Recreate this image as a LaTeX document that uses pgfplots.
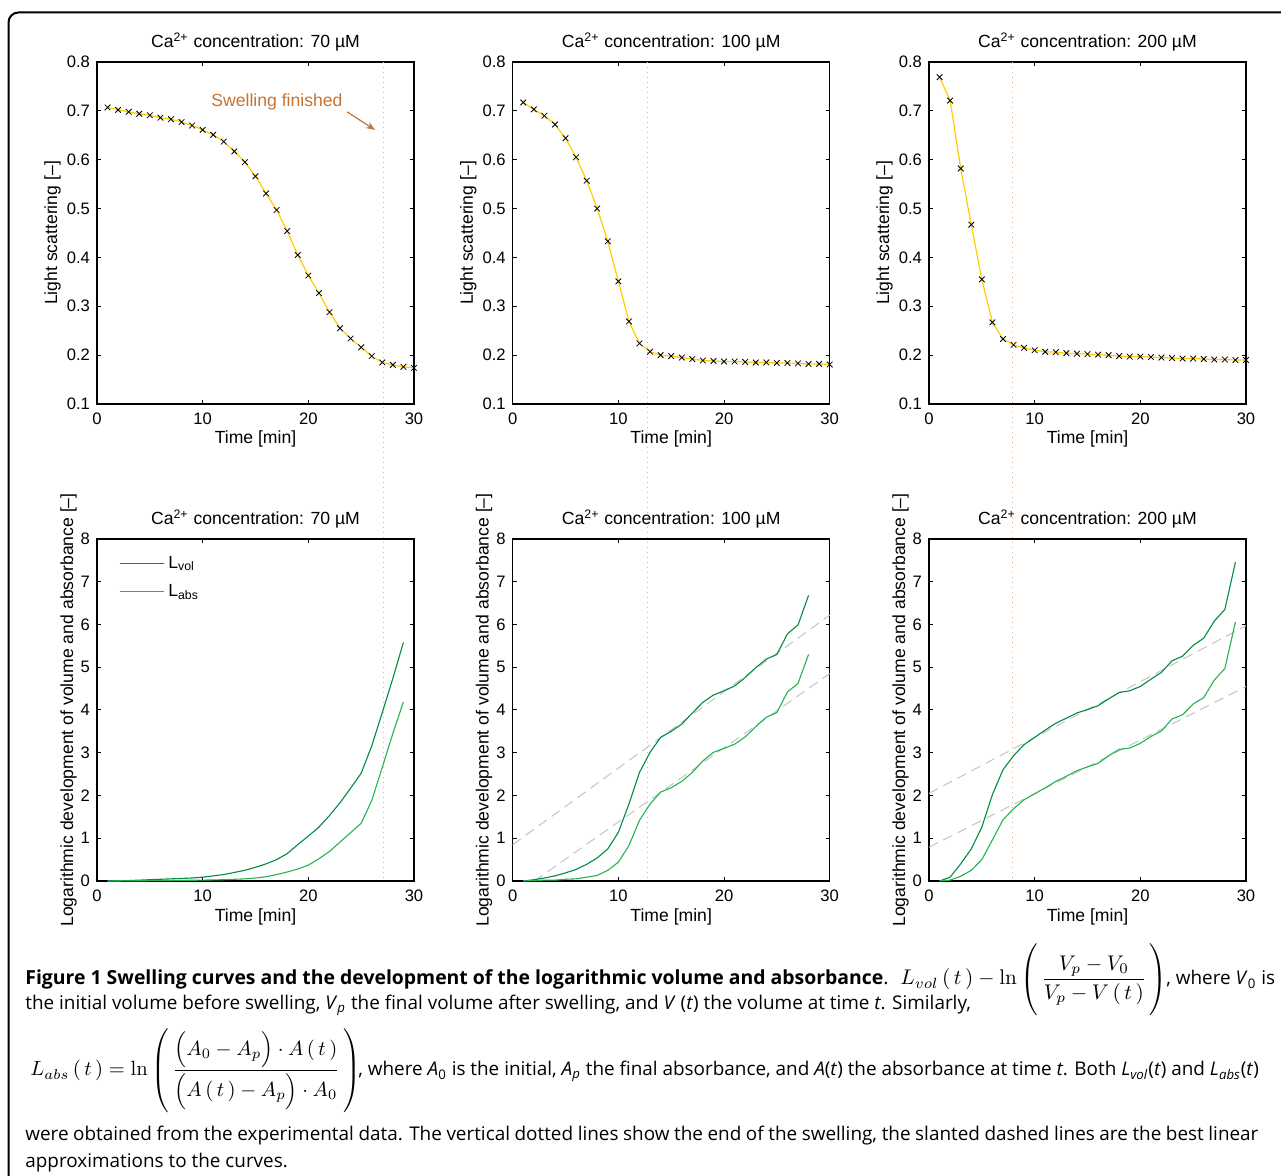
\RequirePackage{fix-cm}
\documentclass[border=0pt]{standalone}
\usepackage[no-math]{fontspec}
\setmainfont{Liberation Sans}
\newfontfamily\capfont{Open Sans}
\usepackage{pgfplots}
\pgfplotsset{compat=1.18}
\usetikzlibrary{arrows.meta}

\definecolor{ylw}{RGB}{255,205,0}
\definecolor{gvol}{RGB}{0,140,65}
\definecolor{gabs}{RGB}{35,180,80}
\definecolor{dotc}{RGB}{240,170,120}
\definecolor{swc}{RGB}{200,115,45}
\definecolor{dashc}{RGB}{195,195,195}

\newcommand{\lab}{\fontsize{8.8}{10}\selectfont}
\newcommand{\capf}{\capfont\fontsize{9.45}{11}\selectfont}
\newcommand{\capb}{\capfont\fontsize{9.7}{11}\selectfont\bfseries}

\pgfplotsset{
  base/.style={
    width=158.5pt, height=171pt, scale only axis, anchor=south west,
    xmin=0, xmax=30, xtick={0,10,20,30},
    tick align=inside, major tick length=2pt,
    axis line style={line width=0.6pt},
    every tick/.style={black, line width=0.5pt},
    /pgf/number format/assume math mode=true,
    tick label style={font=\fontsize{8.3}{10}\selectfont},
    xticklabel style={yshift=-1pt},
    label style={font=\lab},
    title style={font=\lab, at={(axis description cs:0.5,1.0439)}, anchor=base, yshift=-6.5pt},
    xlabel={Time [min]},
    xlabel style={at={(axis description cs:0.5,-0.117)}, anchor=base},
    clip=false,
  },
  toprow/.style={base, ymin=0.1, ymax=0.8,
    ytick={0.1,0.2,0.3,0.4,0.5,0.6,0.7,0.8},
    yticklabel style={/pgf/number format/.cd, fixed, fixed zerofill, precision=1},
    ylabel={Light scattering [--]},
    ylabel style={at={(axis description cs:-0.126,0.5)}, anchor=base}},
  botrow/.style={base, ymin=0, ymax=8, ytick={0,1,2,3,4,5,6,7,8},
    ylabel={Logarithmic development of volume and absorbance [--]},
    ylabel style={at={(axis description cs:-0.0757,0.5)}, anchor=base}},
  ls/.style={color=ylw, line width=0.6pt, mark=x, mark size=2pt,
    mark options={black, solid, line width=0.4pt}},
  dl/.style={dotc, line width=0.5pt, dash pattern=on 0.5pt off 2pt},
  vol/.style={gvol, line width=0.55pt},
  abs/.style={gabs, line width=0.55pt},
  fit/.style={dashc, line width=0.5pt, dash pattern=on 5pt off 3pt},
}

\begin{document}
\begin{tikzpicture}
\path[use as bounding box] (0,0) rectangle (640.5pt,588pt);
\draw[line width=1pt, rounded corners=5pt] (4.25pt,-3pt) -- (4.25pt,581.75pt) -- (645pt,581.75pt);

% ---------- top row ----------
\begin{axis}[toprow, at={(48.5pt,386pt)}, title={Ca\textsuperscript{2+} concentration: 70 µM}]
\addplot[ls] coordinates {
(1,0.707) (2,0.702) (3,0.698) (4,0.694) (5,0.691) (6,0.686) (7,0.683) (8,0.677) (9,0.670) (10,0.661)
(11,0.651) (12,0.637) (13,0.617) (14,0.595) (15,0.566) (16,0.531) (17,0.497) (18,0.454) (19,0.405) (20,0.363)
(21,0.327) (22,0.288) (23,0.255) (24,0.234) (25,0.216) (26,0.198) (27,0.185) (28,0.180) (29,0.176) (30,0.174)};
\addplot[dl] coordinates {(27.13,0.8) (27.13,-0.876)};
\node[swc, font=\lab] at (axis cs:17.03,0.718) {Swelling finished};
\draw[swc, line width=0.6pt, -{Stealth[length=4.5pt,width=3.5pt]}] (axis cs:23.66,0.698) -- (axis cs:26.31,0.661);
\end{axis}

\begin{axis}[toprow, at={(256.35pt,386pt)}, title={Ca\textsuperscript{2+} concentration: 100 µM}]
\addplot[ls] coordinates {
(1,0.717) (2,0.703) (3,0.690) (4,0.672) (5,0.644) (6,0.605) (7,0.557) (8,0.500) (9,0.433) (10,0.351)
(11,0.269) (12,0.224) (13,0.207) (14,0.200) (15,0.198) (16,0.195) (17,0.192) (18,0.189) (19,0.188) (20,0.187)
(21,0.187) (22,0.186) (23,0.185) (24,0.185) (25,0.184) (26,0.184) (27,0.183) (28,0.182) (29,0.182) (30,0.181)};
\addplot[dl] coordinates {(12.73,0.8) (12.73,-0.876)};
\end{axis}

\begin{axis}[toprow, at={(464.5pt,386pt)}, title={Ca\textsuperscript{2+} concentration: 200 µM}]
\addplot[ls] coordinates {
(1,0.769) (2,0.721) (3,0.582) (4,0.467) (5,0.355) (6,0.267) (7,0.233) (8,0.221) (9,0.215) (10,0.210)
(11,0.207) (12,0.206) (13,0.204) (14,0.203) (15,0.202) (16,0.201) (17,0.200) (18,0.198) (19,0.197) (20,0.197)
(21,0.196) (22,0.195) (23,0.194) (24,0.193) (25,0.193) (26,0.192) (27,0.191) (28,0.191) (29,0.190) (30,0.190)};
\addplot[dl] coordinates {(7.89,0.8) (7.89,-0.876)};
\end{axis}

% ---------- bottom row ----------
\begin{axis}[botrow, at={(48.5pt,147.5pt)}, title={Ca\textsuperscript{2+} concentration: 70 µM},
  legend style={draw=none, fill=none, at={(axis description cs:0.05,0.975)}, anchor=north west,
    font=\lab, row sep=2.5pt, legend cell align=left},
  legend image code/.code={\draw[#1] (0pt,0pt) -- (22pt,0pt);}]
\addplot[vol] coordinates {
(1,0) (2,0.005) (3,0.01) (4,0.02) (5,0.03) (6,0.04) (7,0.05) (8,0.06) (9,0.07) (10,0.09)
(11,0.12) (12,0.15) (13,0.2) (14,0.25) (15,0.32) (16,0.4) (17,0.5) (18,0.64) (19,0.85) (20,1.05)
(21,1.26) (22,1.53) (23,1.83) (24,2.17) (25,2.52) (26,3.16) (27,3.94) (28,4.74) (29,5.58)};
\addplot[abs] coordinates {
(1,0) (2,0) (3,0.003) (4,0.005) (5,0.007) (6,0.01) (7,0.012) (8,0.015) (9,0.017) (10,0.02)
(11,0.025) (12,0.03) (13,0.04) (14,0.05) (15,0.07) (16,0.1) (17,0.15) (18,0.21) (19,0.28) (20,0.37)
(21,0.52) (22,0.69) (23,0.91) (24,1.13) (25,1.35) (26,1.88) (27,2.66) (28,3.45) (29,4.19)};
\legend{L\textsubscript{vol}, L\textsubscript{abs}}
\end{axis}

\begin{axis}[botrow, at={(256.35pt,147.5pt)}, title={Ca\textsuperscript{2+} concentration: 100 µM}]
\addplot[fit] coordinates {(0,0.85) (30,6.22)};
\addplot[fit] coordinates {(2.05,0) (30,4.85)};
\addplot[vol] coordinates {
(1,0) (2,0.03) (3,0.07) (4,0.12) (5,0.19) (6,0.27) (7,0.39) (8,0.54) (9,0.75) (10,1.14)
(11,1.80) (12,2.54) (13,3.01) (14,3.36) (15,3.50) (16,3.67) (17,3.93) (18,4.18) (19,4.35) (20,4.45)
(21,4.56) (22,4.76) (23,4.99) (24,5.19) (25,5.30) (26,5.78) (27,5.99) (28,6.68)};
\addplot[abs] coordinates {
(1,0) (2,0.01) (3,0.02) (4,0.02) (5,0.04) (6,0.05) (7,0.09) (8,0.13) (9,0.25) (10,0.44)
(11,0.83) (12,1.42) (13,1.80) (14,2.08) (15,2.18) (16,2.33) (17,2.54) (18,2.81) (19,3.01) (20,3.10)
(21,3.20) (22,3.37) (23,3.61) (24,3.83) (25,3.94) (26,4.42) (27,4.62) (28,5.30)};
\end{axis}

\begin{axis}[botrow, at={(464.5pt,147.5pt)}, title={Ca\textsuperscript{2+} concentration: 200 µM}]
\addplot[fit] coordinates {(0,2.05) (30,5.97)};
\addplot[fit] coordinates {(0,0.79) (30,4.55)};
\addplot[vol] coordinates {
(1,0) (2,0.09) (3,0.40) (4,0.75) (5,1.26) (6,2.02) (7,2.60) (8,2.93) (9,3.19) (10,3.36)
(11,3.53) (12,3.69) (13,3.81) (14,3.93) (15,4.01) (16,4.10) (17,4.26) (18,4.41) (19,4.45) (20,4.55)
(21,4.72) (22,4.88) (23,5.15) (24,5.26) (25,5.51) (26,5.68) (27,6.08) (28,6.35) (29,7.46)};
\addplot[abs] coordinates {
(1,0) (2,0.02) (3,0.11) (4,0.25) (5,0.50) (6,0.96) (7,1.43) (8,1.69) (9,1.90) (10,2.04)
(11,2.18) (12,2.33) (13,2.45) (14,2.58) (15,2.67) (16,2.75) (17,2.93) (18,3.08) (19,3.11) (20,3.22)
(21,3.38) (22,3.51) (23,3.79) (24,3.89) (25,4.14) (26,4.29) (27,4.70) (28,4.97) (29,6.06)};
\end{axis}

% ---------- caption ----------
\node[anchor=base west, inner sep=0pt, font=\capb] at (12.5pt,95.5pt)
  {Figure 1 Swelling curves and the development of the logarithmic volume and absorbance\mdseries.};
\node[anchor=base west, inner sep=0pt, font=\fontsize{10.6}{13}\selectfont] at (450pt,95.5pt)
  {$\displaystyle L_{vol}\left(\,t\,\right)-\ln\left(\rule[-16.5pt]{0pt}{39pt}\,\frac{V_p-V_0}{V_p-V\left(\,t\,\right)}\,\right)$};
\node[anchor=base west, inner sep=0pt, font=\capf] at (583pt,95.5pt)
  {, where \textit{V}\textsubscript{0} is};
\node[anchor=base west, inner sep=0pt, font=\capf] at (12.5pt,83pt)
  {the initial volume before swelling, \textit{V}\textsubscript{\textit{p}} the final volume after swelling, and \textit{V} (\textit{t}) the volume at time \textit{t}. Similarly,};
\node[anchor=base west, inner sep=0pt, font=\fontsize{10.3}{13}\selectfont] at (15pt,50pt)
  {$\displaystyle L_{abs}\left(\,t\,\right)=\ln\left(\rule[-19.5pt]{0pt}{45pt}\,\frac{\Bigl(A_0-A_p\Bigr)\cdot A\left(\,t\,\right)}{\Bigl(A\left(\,t\,\right)-A_p\Bigr)\cdot A_0}\,\right)$};
\node[anchor=base west, inner sep=0pt, font=\capf] at (179pt,50pt)
  {, where \textit{A}\textsubscript{0} is the initial, \textit{A}\textsubscript{\textit{p}} the final absorbance, and \textit{A}(\textit{t}) the absorbance at time \textit{t}. Both \textit{L}\textsubscript{\textit{vol}}(\textit{t}) and \textit{L}\textsubscript{\textit{abs}}(\textit{t})};
\node[anchor=base west, inner sep=0pt, font=\capf] at (12.5pt,17.5pt)
  {\makebox[616.5pt][s]{were obtained from the experimental data. The vertical dotted lines show the end of the swelling, the slanted dashed lines are the best linear}};
\node[anchor=base west, inner sep=0pt, font=\capf] at (12.5pt,4pt)
  {approximations to the curves.};
\end{tikzpicture}
\end{document}
